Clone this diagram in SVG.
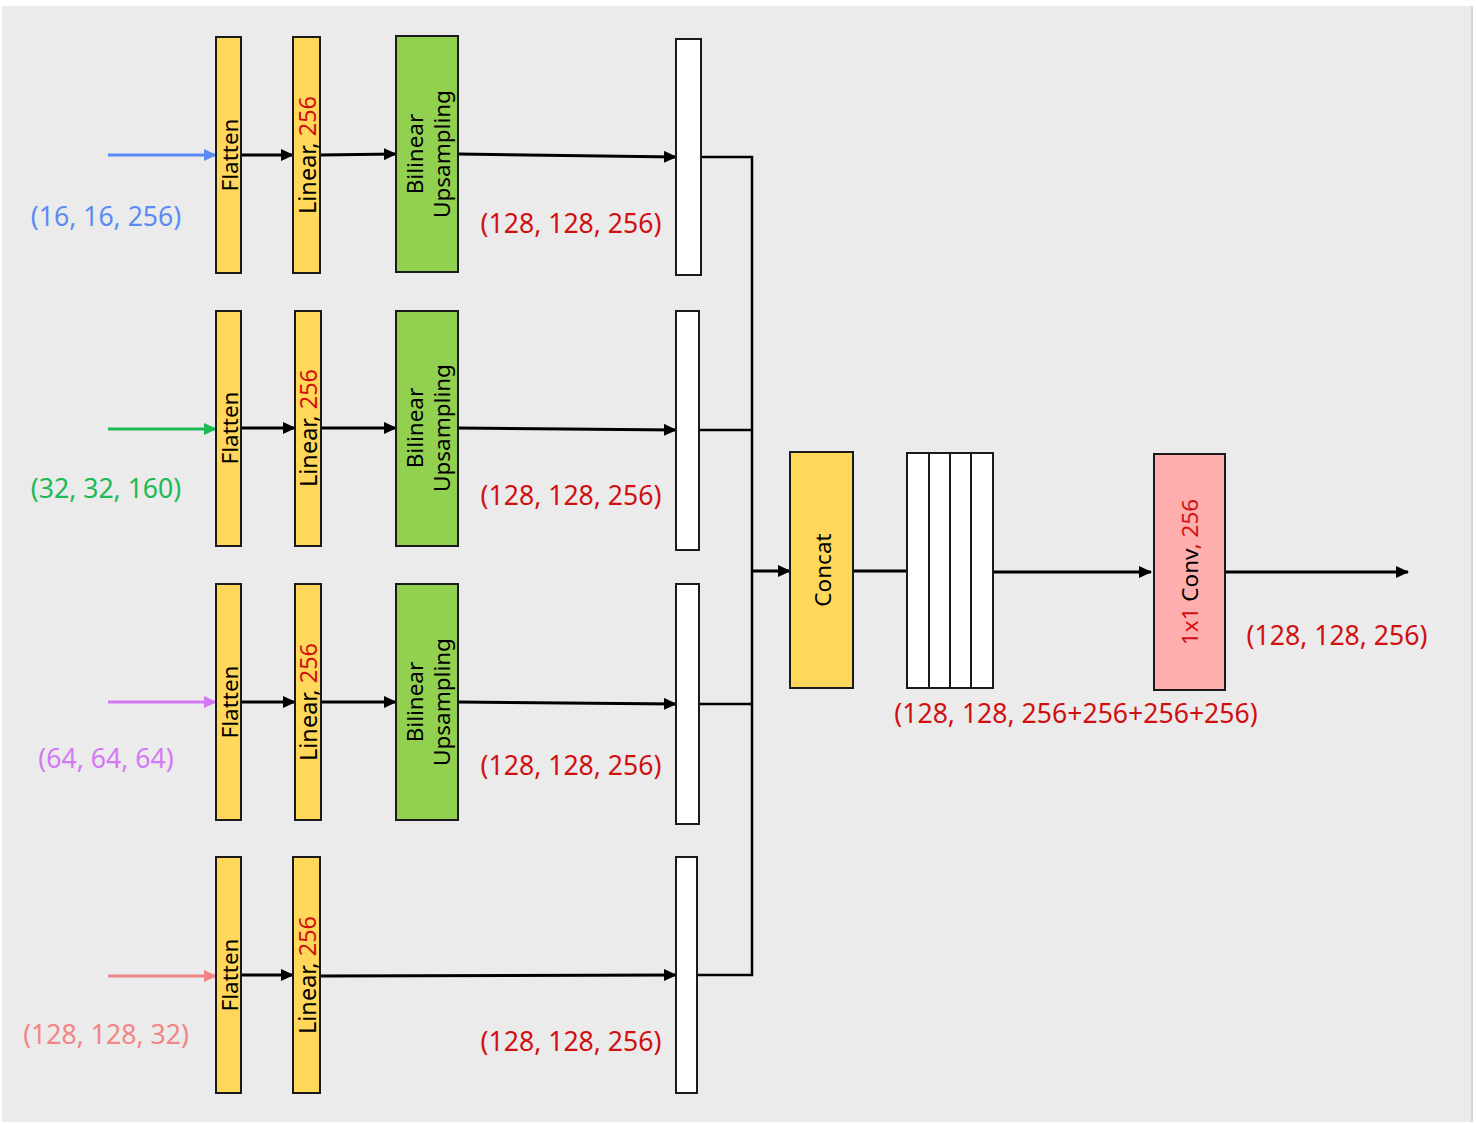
<svg xmlns="http://www.w3.org/2000/svg" width="1476" height="1124" viewBox="0 0 1476 1124">
<defs>
<marker id="ah" markerWidth="13" markerHeight="12" refX="12" refY="6" orient="auto" markerUnits="userSpaceOnUse" viewBox="0 0 13 12">
<path d="M0,0 L13,6 L0,12 z" fill="#000"/>
</marker>
<marker id="ahb" markerWidth="13" markerHeight="12" refX="12" refY="6" orient="auto" markerUnits="userSpaceOnUse" viewBox="0 0 13 12"><path d="M0,0 L13,6 L0,12 z" fill="#5B8CF5"/></marker>
<marker id="ahg" markerWidth="13" markerHeight="12" refX="12" refY="6" orient="auto" markerUnits="userSpaceOnUse" viewBox="0 0 13 12"><path d="M0,0 L13,6 L0,12 z" fill="#1DB954"/></marker>
<marker id="ahp" markerWidth="13" markerHeight="12" refX="12" refY="6" orient="auto" markerUnits="userSpaceOnUse" viewBox="0 0 13 12"><path d="M0,0 L13,6 L0,12 z" fill="#D479F5"/></marker>
<marker id="ahr" markerWidth="13" markerHeight="12" refX="12" refY="6" orient="auto" markerUnits="userSpaceOnUse" viewBox="0 0 13 12"><path d="M0,0 L13,6 L0,12 z" fill="#F28585"/></marker>
</defs>
<style>
text { font-family: "Noto Sans", "Noto Sans CJK KR", "Liberation Sans", sans-serif; }
.box { stroke: #1a1a1a; stroke-width: 2; }
.yel { fill: #FFD75A; }
.grn { fill: #92D050; }
.wht { fill: #FFFFFF; }
.pnk { fill: #FFAEAE; }
.vt { font-size: 22.5px; fill: #000; text-anchor: middle; dominant-baseline: central; }
.vl { font-size: 23.5px; }
.lbl { font-size: 26.6px; text-anchor: middle; }
.red { fill: #D01010; }
.ln { stroke: #000; stroke-width: 3; fill: none; }
.ln2 { stroke: #000; stroke-width: 2.5; fill: none; }
</style>
<rect x="2" y="6" width="1470" height="1116" fill="#EBEBEB"/>
<line x1="1472" y1="6" x2="1472" y2="1122" stroke="#D6D6D6" stroke-width="2"/>

<g id="connectors">
<line x1="108" y1="155" x2="216" y2="155" stroke="#5B8CF5" stroke-width="3" marker-end="url(#ahb)"/>
<line x1="108" y1="429" x2="216" y2="429" stroke="#1DB954" stroke-width="3" marker-end="url(#ahg)"/>
<line x1="108" y1="702" x2="216" y2="702" stroke="#D479F5" stroke-width="3" marker-end="url(#ahp)"/>
<line x1="108" y1="976" x2="216" y2="976" stroke="#F28585" stroke-width="3" marker-end="url(#ahr)"/>

<line class="ln" x1="241" y1="155" x2="293" y2="155" marker-end="url(#ah)"/>
<line class="ln" x1="320" y1="155" x2="396" y2="154" marker-end="url(#ah)"/>
<line class="ln" x1="458" y1="154" x2="676" y2="157" marker-end="url(#ah)"/>

<line class="ln" x1="241" y1="428" x2="295" y2="428" marker-end="url(#ah)"/>
<line class="ln" x1="321" y1="428" x2="396" y2="428" marker-end="url(#ah)"/>
<line class="ln" x1="458" y1="428" x2="676" y2="430" marker-end="url(#ah)"/>

<line class="ln" x1="241" y1="702" x2="295" y2="702" marker-end="url(#ah)"/>
<line class="ln" x1="321" y1="702" x2="396" y2="702" marker-end="url(#ah)"/>
<line class="ln" x1="458" y1="702" x2="676" y2="704" marker-end="url(#ah)"/>

<line class="ln" x1="241" y1="975" x2="293" y2="975" marker-end="url(#ah)"/>
<line class="ln" x1="320" y1="976" x2="676" y2="975" marker-end="url(#ah)"/>

<polyline class="ln2" points="701,157 752,157 752,975 697,975"/>
<line class="ln2" x1="699" y1="430" x2="752" y2="430"/>
<line class="ln2" x1="699" y1="704" x2="752" y2="704"/>
<line class="ln" x1="752" y1="571" x2="790" y2="571" marker-end="url(#ah)"/>
<line class="ln" x1="853" y1="571" x2="907" y2="571"/>
<line class="ln" x1="993" y1="572" x2="1151" y2="572" marker-end="url(#ah)"/>
<line class="ln" x1="1225" y1="572" x2="1408" y2="572" marker-end="url(#ah)"/>
</g>

<g id="row1">
<g id="flatten1"><rect class="box yel" x="216" y="37" width="25" height="236"/><text class="vt" transform="translate(229,155) rotate(-90)">Flatten</text></g>
<g id="linear1"><rect class="box yel" x="293" y="37" width="27" height="236"/><text class="vt vl" transform="translate(307,155) rotate(-90)">Linear, <tspan class="red">256</tspan></text></g>
<g id="bilinear1"><rect class="box grn" x="396" y="36" width="62" height="236"/><text class="vt" transform="translate(427,154) rotate(-90)"><tspan x="0" dy="-13">Bilinear</tspan><tspan x="0" dy="27">Upsampling</tspan></text></g>
<g id="out1"><rect class="box wht" x="676" y="39" width="25" height="236"/></g>
<text class="lbl" x="106" y="226" fill="#5B8CF5">(16, 16, 256)</text>
<text class="lbl red" x="571" y="233">(128, 128, 256)</text>
</g>

<g id="row2">
<g id="flatten2"><rect class="box yel" x="216" y="311" width="25" height="235"/><text class="vt" transform="translate(229,428) rotate(-90)">Flatten</text></g>
<g id="linear2"><rect class="box yel" x="295" y="311" width="26" height="235"/><text class="vt vl" transform="translate(308,428) rotate(-90)">Linear, <tspan class="red">256</tspan></text></g>
<g id="bilinear2"><rect class="box grn" x="396" y="311" width="62" height="235"/><text class="vt" transform="translate(427,428) rotate(-90)"><tspan x="0" dy="-13">Bilinear</tspan><tspan x="0" dy="27">Upsampling</tspan></text></g>
<g id="out2"><rect class="box wht" x="676" y="311" width="23" height="239"/></g>
<text class="lbl" x="106" y="498" fill="#1DB954">(32, 32, 160)</text>
<text class="lbl red" x="571" y="505">(128, 128, 256)</text>
</g>

<g id="row3">
<g id="flatten3"><rect class="box yel" x="216" y="584" width="25" height="236"/><text class="vt" transform="translate(229,702) rotate(-90)">Flatten</text></g>
<g id="linear3"><rect class="box yel" x="295" y="584" width="26" height="236"/><text class="vt vl" transform="translate(308,702) rotate(-90)">Linear, <tspan class="red">256</tspan></text></g>
<g id="bilinear3"><rect class="box grn" x="396" y="584" width="62" height="236"/><text class="vt" transform="translate(427,702) rotate(-90)"><tspan x="0" dy="-13">Bilinear</tspan><tspan x="0" dy="27">Upsampling</tspan></text></g>
<g id="out3"><rect class="box wht" x="676" y="584" width="23" height="240"/></g>
<text class="lbl" x="106" y="768" fill="#D479F5">(64, 64, 64)</text>
<text class="lbl red" x="571" y="775">(128, 128, 256)</text>
</g>

<g id="row4">
<g id="flatten4"><rect class="box yel" x="216" y="857" width="25" height="236"/><text class="vt" transform="translate(229,975) rotate(-90)">Flatten</text></g>
<g id="linear4"><rect class="box yel" x="293" y="857" width="27" height="236"/><text class="vt vl" transform="translate(307,975) rotate(-90)">Linear, <tspan class="red">256</tspan></text></g>
<g id="out4"><rect class="box wht" x="676" y="857" width="21" height="236"/></g>
<text class="lbl" x="106" y="1044" fill="#F28585">(128, 128, 32)</text>
<text class="lbl red" x="571" y="1051">(128, 128, 256)</text>
</g>

<g id="concat"><rect class="box yel" x="790" y="452" width="63" height="236"/><text class="vt" transform="translate(822,570) rotate(-90)">Concat</text></g>
<g id="stack">
<rect class="box wht" x="907" y="453" width="86" height="235"/>
<line class="box" x1="929" y1="453" x2="929" y2="688"/>
<line class="box" x1="950" y1="453" x2="950" y2="688"/>
<line class="box" x1="971" y1="453" x2="971" y2="688"/>
</g>
<text class="lbl red" x="1076" y="723">(128, 128, 256+256+256+256)</text>
<g id="conv"><rect class="box pnk" x="1154" y="454" width="71" height="236"/><text class="vt" transform="translate(1189,572) rotate(-90)"><tspan class="red">1x1</tspan> Conv<tspan class="red">, 256</tspan></text></g>
<text class="lbl red" x="1337" y="645">(128, 128, 256)</text>
</svg>
